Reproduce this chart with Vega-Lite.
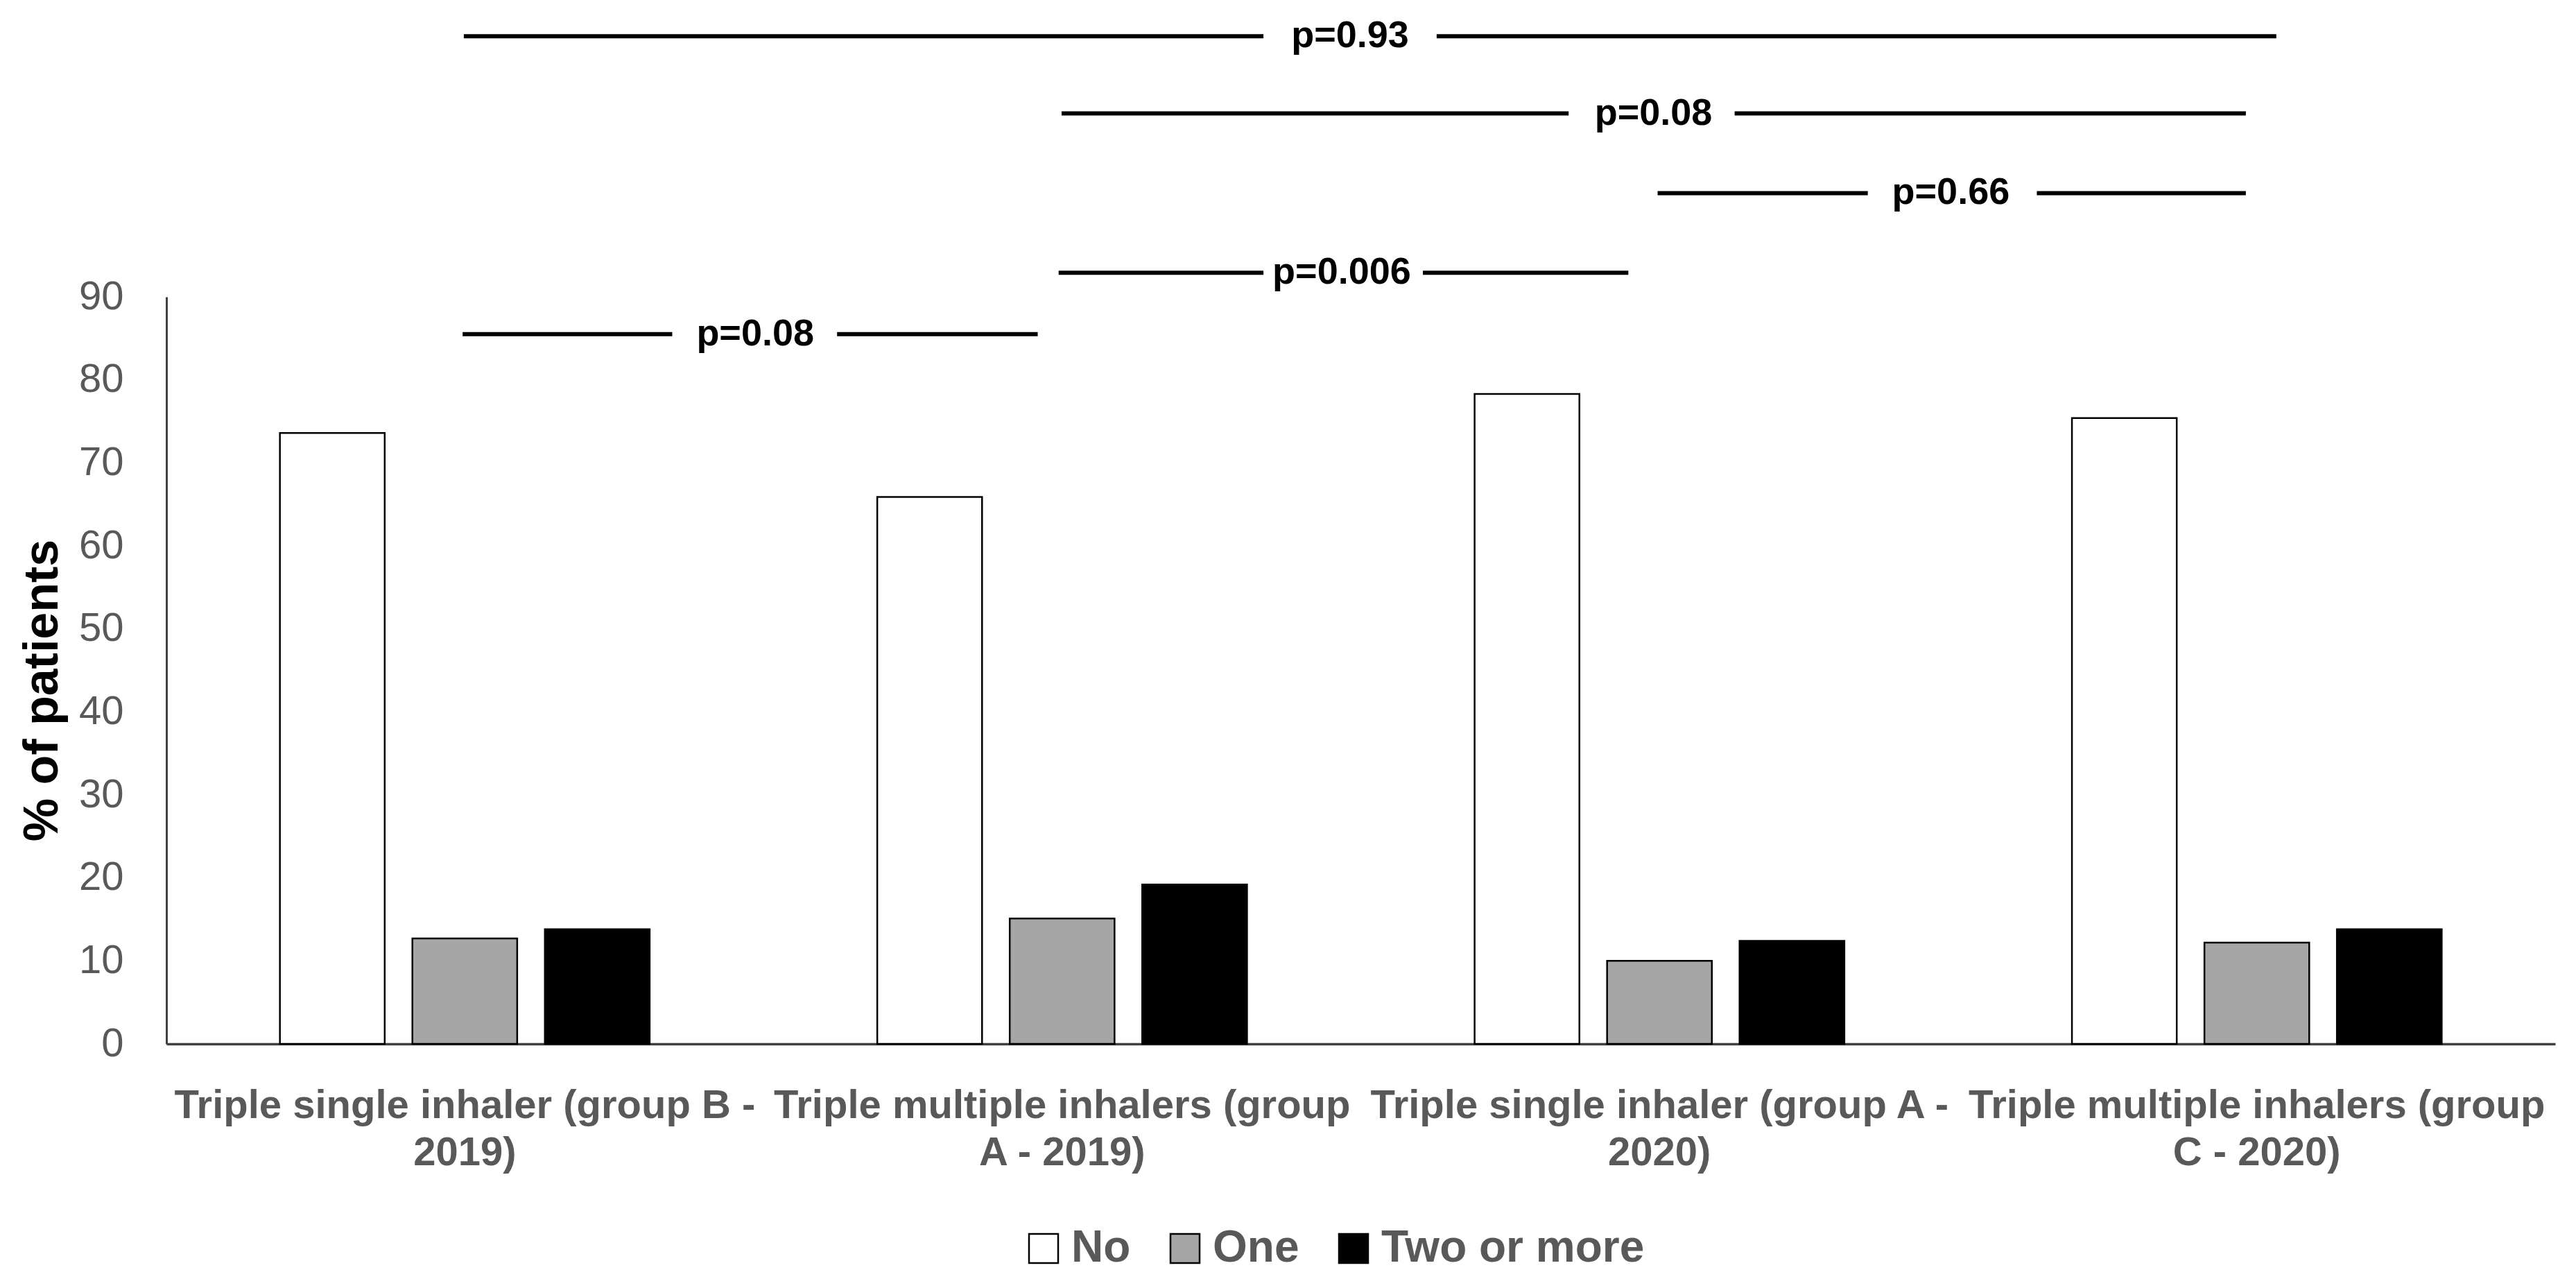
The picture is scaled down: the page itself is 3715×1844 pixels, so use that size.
{
  "$schema": "https://vega.github.io/schema/vega-lite/v6.json",
  "width": 3445,
  "height": 1077,
  "autosize": {"type": "none"},
  "padding": {"left": 240, "top": 428, "right": 30, "bottom": 339},
  "background": "white",
  "config": {"view": {"stroke": null}, "font": "Liberation Sans"},
  "datasets": {
    "bars": [
      {"group": "Triple single inhaler (group B - 2019)", "category": "No", "value": 73.6},
      {"group": "Triple single inhaler (group B - 2019)", "category": "One", "value": 12.7},
      {"group": "Triple single inhaler (group B - 2019)", "category": "Two or more", "value": 13.8},
      {"group": "Triple multiple inhalers (group A - 2019)", "category": "No", "value": 65.9},
      {"group": "Triple multiple inhalers (group A - 2019)", "category": "One", "value": 15.1},
      {"group": "Triple multiple inhalers (group A - 2019)", "category": "Two or more", "value": 19.2},
      {"group": "Triple single inhaler (group A - 2020)", "category": "No", "value": 78.3},
      {"group": "Triple single inhaler (group A - 2020)", "category": "One", "value": 10.0},
      {"group": "Triple single inhaler (group A - 2020)", "category": "Two or more", "value": 12.4},
      {"group": "Triple multiple inhalers (group C - 2020)", "category": "No", "value": 75.4},
      {"group": "Triple multiple inhalers (group C - 2020)", "category": "One", "value": 12.2},
      {"group": "Triple multiple inhalers (group C - 2020)", "category": "Two or more", "value": 13.8}
    ],
    "segments": [
      {"p": "p=0.93", "value": 121.4, "x1": 0.498, "x2": 1.837},
      {"p": "p=0.93", "value": 121.4, "x1": 2.127, "x2": 3.533},
      {"p": "p=0.08 (A-2019 vs C-2020)", "value": 112.1, "x1": 1.499, "x2": 2.348},
      {"p": "p=0.08 (A-2019 vs C-2020)", "value": 112.1, "x1": 2.626, "x2": 3.482},
      {"p": "p=0.66", "value": 102.5, "x1": 2.497, "x2": 2.849},
      {"p": "p=0.66", "value": 102.5, "x1": 3.132, "x2": 3.482},
      {"p": "p=0.006", "value": 92.9, "x1": 1.494, "x2": 1.837},
      {"p": "p=0.006", "value": 92.9, "x1": 2.104, "x2": 2.448},
      {"p": "p=0.08 (B-2019 vs A-2019)", "value": 85.5, "x1": 0.496, "x2": 0.847},
      {"p": "p=0.08 (B-2019 vs A-2019)", "value": 85.5, "x1": 1.123, "x2": 1.459}
    ],
    "plabels": [
      {"label": "p=0.93", "value": 121.4, "xc": 1.982},
      {"label": "p=0.08", "value": 112.1, "xc": 2.49},
      {"label": "p=0.66", "value": 102.5, "xc": 2.988},
      {"label": "p=0.006", "value": 92.9, "xc": 1.968},
      {"label": "p=0.08", "value": 85.5, "xc": 0.986}
    ]
  },
  "layer": [
    {
      "data": {"name": "bars"},
      "mark": {"type": "bar", "stroke": "black", "strokeWidth": 2.5},
      "encoding": {
        "x": {
          "field": "group",
          "type": "nominal",
          "sort": [
            "Triple single inhaler (group B - 2019)",
            "Triple multiple inhalers (group A - 2019)",
            "Triple single inhaler (group A - 2020)",
            "Triple multiple inhalers (group C - 2020)"
          ],
          "scale": {"paddingInner": 0.381, "paddingOuter": 0.19},
          "axis": {
            "title": null,
            "labelAngle": 0,
            "labelFont": "Liberation Sans",
            "labelFontWeight": "bold",
            "labelFontSize": 58,
            "labelColor": "#595959",
            "labelPadding": 60,
            "labelBaseline": "top",
            "labelLimit": 0,
            "labelOverlap": false,
            "labelLineHeight": 68,
            "ticks": false,
            "domainColor": "#404040",
            "domainWidth": 3.5,
            "labelExpr": "datum.value == 'Triple single inhaler (group B - 2019)' ? ['Triple single inhaler (group B -', '2019)'] : datum.value == 'Triple multiple inhalers (group A - 2019)' ? ['Triple multiple inhalers (group', 'A - 2019)'] : datum.value == 'Triple single inhaler (group A - 2020)' ? ['Triple single inhaler (group A -', '2020)'] : ['Triple multiple inhalers (group', 'C - 2020)']"
          }
        },
        "xOffset": {
          "field": "category",
          "type": "nominal",
          "sort": ["No", "One", "Two or more"],
          "scale": {"paddingInner": 0.209, "paddingOuter": 0}
        },
        "y": {
          "field": "value",
          "type": "quantitative",
          "title": "% of patients",
          "scale": {"domain": [0, 90], "nice": false, "zero": true},
          "axis": {
            "values": [0, 10, 20, 30, 40, 50, 60, 70, 80, 90],
            "grid": false,
            "ticks": false,
            "labelFont": "Liberation Sans",
            "labelFontSize": 58,
            "labelColor": "#595959",
            "labelPadding": 62,
            "domainColor": "#404040",
            "domainWidth": 3,
            "titleFont": "Liberation Sans",
            "titleFontWeight": "bold",
            "titleFontSize": 70,
            "titleColor": "black",
            "titleAngle": -90,
            "titleX": -158,
            "titleY": 567,
            "titleAlign": "center",
            "titleBaseline": "alphabetic"
          }
        },
        "fill": {
          "field": "category",
          "type": "nominal",
          "scale": {"domain": ["No", "One", "Two or more"], "range": ["#ffffff", "#a6a6a6", "#000000"]},
          "legend": {
            "orient": "none",
            "legendX": 1233,
            "legendY": 1340,
            "direction": "horizontal",
            "title": null,
            "symbolType": "square",
            "symbolSize": 1764,
            "symbolStrokeColor": "black",
            "symbolStrokeWidth": 2.5,
            "symbolOpacity": 1,
            "labelFont": "Liberation Sans",
            "labelFontWeight": "bold",
            "labelFontSize": 64,
            "labelColor": "#595959",
            "labelOffset": 8,
            "labelLimit": 0,
            "columnPadding": 46,
            "padding": 0
          }
        }
      }
    },
    {
      "data": {"name": "segments"},
      "mark": {"type": "rule", "stroke": "black", "strokeWidth": 6},
      "encoding": {
        "x": {"field": "x1", "type": "quantitative", "scale": {"domain": [0, 4], "nice": false, "zero": false}, "axis": null},
        "x2": {"field": "x2"},
        "y": {"field": "value", "type": "quantitative", "title": "% of patients", "scale": {"domain": [0, 90], "nice": false, "zero": true}}
      }
    },
    {
      "data": {"name": "plabels"},
      "mark": {"type": "text", "font": "Liberation Sans", "fontWeight": "bold", "fontSize": 54, "baseline": "middle", "align": "center", "color": "black"},
      "encoding": {
        "x": {"field": "xc", "type": "quantitative", "scale": {"domain": [0, 4], "nice": false, "zero": false}, "axis": null},
        "y": {"field": "value", "type": "quantitative", "title": "% of patients", "scale": {"domain": [0, 90], "nice": false, "zero": true}},
        "text": {"field": "label"}
      }
    }
  ],
  "resolve": {"scale": {"x": "independent"}}
}
